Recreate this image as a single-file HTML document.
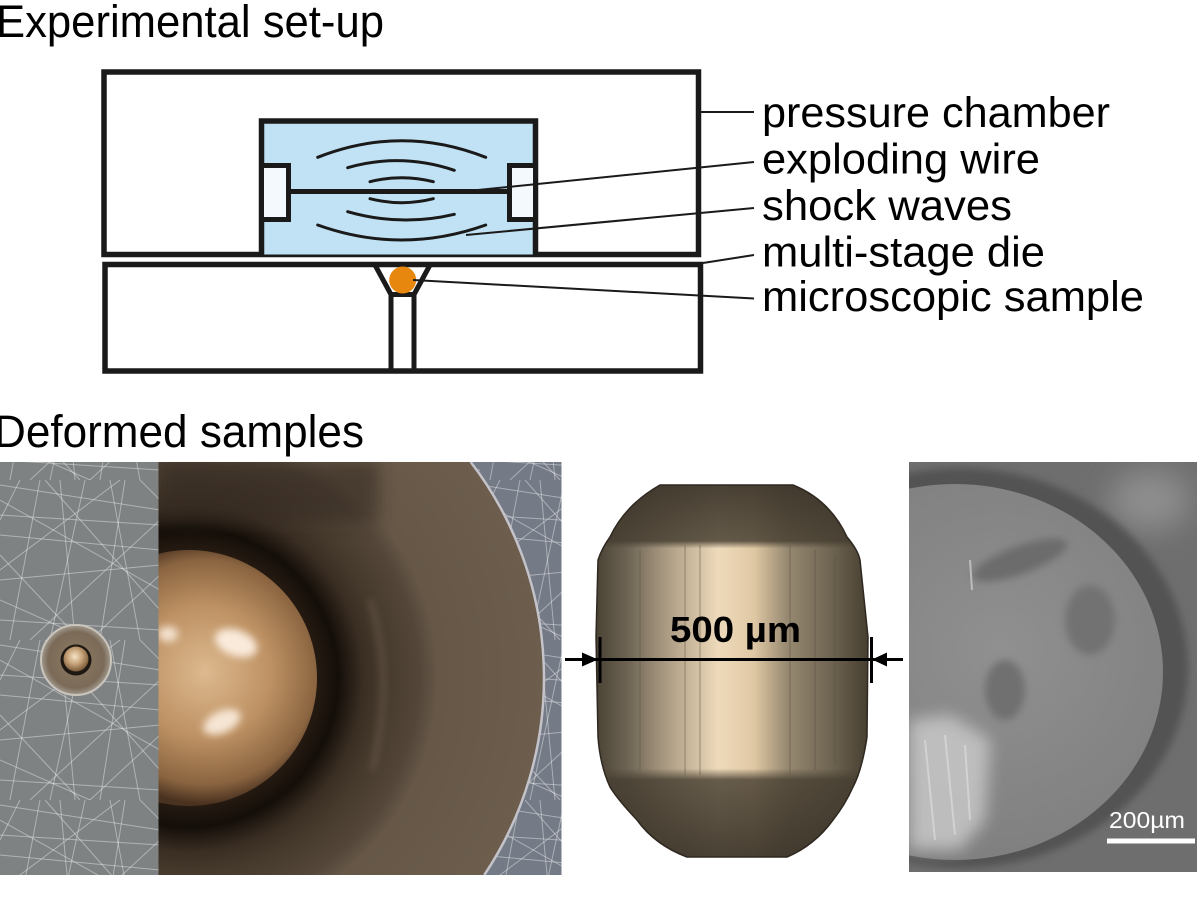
<!DOCTYPE html>
<html>
<head>
<meta charset="utf-8">
<style>
  html,body{margin:0;padding:0;background:#fff;width:1200px;height:901px;overflow:hidden;}
  svg{display:block;position:absolute;left:0;top:0;}
  text{font-family:"Liberation Sans", Arial, sans-serif;}
</style>
</head>
<body>
<svg width="1200" height="901" viewBox="0 0 1200 901" xmlns="http://www.w3.org/2000/svg" overflow="hidden">
  <defs>
    <pattern id="scr" width="160" height="160" patternUnits="userSpaceOnUse">
      <g stroke="#eef1f1" stroke-opacity="0.45" stroke-width="1" fill="none">
        <line x1="0" y1="20" x2="160" y2="110"/>
        <line x1="0" y1="90" x2="120" y2="0"/>
        <line x1="30" y1="160" x2="160" y2="40"/>
        <line x1="0" y1="140" x2="160" y2="150"/>
        <line x1="60" y1="0" x2="75" y2="160"/>
        <line x1="110" y1="0" x2="140" y2="160"/>
        <line x1="0" y1="55" x2="160" y2="70"/>
        <line x1="0" y1="120" x2="90" y2="160"/>
        <line x1="20" y1="0" x2="0" y2="40"/>
        <line x1="90" y1="160" x2="160" y2="95"/>
        <line x1="0" y1="5" x2="160" y2="30"/>
        <line x1="10" y1="160" x2="40" y2="0"/>
        <line x1="0" y1="75" x2="80" y2="160"/>
        <line x1="140" y1="0" x2="160" y2="20"/>
        <line x1="45" y1="0" x2="160" y2="130"/>
        <line x1="0" y1="100" x2="160" y2="85"/>
        <line x1="125" y1="0" x2="100" y2="160"/>
        <line x1="0" y1="35" x2="160" y2="45"/>
        <line x1="85" y1="0" x2="50" y2="160"/>
      </g>
    </pattern>
    <filter id="b4" x="-50%" y="-50%" width="200%" height="200%"><feGaussianBlur stdDeviation="4"/></filter>
    <filter id="b8" x="-50%" y="-50%" width="200%" height="200%"><feGaussianBlur stdDeviation="8"/></filter>
    <filter id="b15" x="-50%" y="-50%" width="200%" height="200%"><feGaussianBlur stdDeviation="15"/></filter>
    <clipPath id="c1"><rect x="0" y="462" width="158.5" height="413"/></clipPath>
    <clipPath id="c2"><rect x="158.5" y="462" width="403" height="413"/></clipPath>
    <clipPath id="c4"><rect x="909" y="462" width="288" height="410"/></clipPath>
    <radialGradient id="disk" cx="0.5" cy="0.5" r="0.5">
      <stop offset="0" stop-color="#8e7c66"/>
      <stop offset="0.8" stop-color="#7a6a57"/>
      <stop offset="1" stop-color="#a39a8e"/>
    </radialGradient>
    <radialGradient id="bead" cx="0.45" cy="0.4" r="0.6">
      <stop offset="0" stop-color="#f4e2c8"/>
      <stop offset="0.5" stop-color="#c8a47a"/>
      <stop offset="1" stop-color="#7a5a3a"/>
    </radialGradient>
    <radialGradient id="die2" gradientUnits="userSpaceOnUse" cx="189" cy="678" r="355">
      <stop offset="0.34" stop-color="#2a1e14"/>
      <stop offset="0.42" stop-color="#140e09"/>
      <stop offset="0.49" stop-color="#3a2e23"/>
      <stop offset="0.55" stop-color="#463a2d"/>
      <stop offset="0.65" stop-color="#54473a"/>
      <stop offset="0.70" stop-color="#665747"/>
      <stop offset="1" stop-color="#6c5d4d"/>
    </radialGradient>
    <radialGradient id="hemi" gradientUnits="userSpaceOnUse" cx="205" cy="672" r="132">
      <stop offset="0" stop-color="#ddb98f"/>
      <stop offset="0.5" stop-color="#bd9163"/>
      <stop offset="0.85" stop-color="#8a6440"/>
      <stop offset="1" stop-color="#4a3220"/>
    </radialGradient>
    <linearGradient id="sampH" x1="596" y1="0" x2="868" y2="0" gradientUnits="userSpaceOnUse">
      <stop offset="0" stop-color="#4a4234"/>
      <stop offset="0.12" stop-color="#6e6555"/>
      <stop offset="0.25" stop-color="#a89880"/>
      <stop offset="0.45" stop-color="#eedabb"/>
      <stop offset="0.58" stop-color="#e0c8a4"/>
      <stop offset="0.7" stop-color="#988a72"/>
      <stop offset="0.88" stop-color="#6a604e"/>
      <stop offset="1" stop-color="#463e30"/>
    </linearGradient>
    <linearGradient id="sampV" x1="0" y1="485" x2="0" y2="858" gradientUnits="userSpaceOnUse">
      <stop offset="0" stop-color="#3a3328" stop-opacity="0.92"/>
      <stop offset="0.15" stop-color="#453d30" stop-opacity="0.82"/>
      <stop offset="0.17" stop-color="#4a4234" stop-opacity="0"/>
      <stop offset="0.76" stop-color="#4a4234" stop-opacity="0"/>
      <stop offset="0.79" stop-color="#453d30" stop-opacity="0.8"/>
      <stop offset="1" stop-color="#3a3328" stop-opacity="0.92"/>
    </linearGradient>
    <radialGradient id="sem" gradientUnits="userSpaceOnUse" cx="1000" cy="650" r="230">
      <stop offset="0" stop-color="#909090"/>
      <stop offset="1" stop-color="#7e7e7e"/>
    </radialGradient>
  </defs>

  <!-- Headings -->
  <text x="-4" y="37" font-size="45" fill="#000" textLength="388" lengthAdjust="spacingAndGlyphs">Experimental set-up</text>
  <text x="-6" y="447" font-size="45" fill="#000" textLength="370" lengthAdjust="spacingAndGlyphs">Deformed samples</text>

  <!-- Schematic -->
  <g stroke="#1a1a1a" fill="none">
    <rect x="104" y="72" width="594.5" height="182.5" stroke-width="5.5"/>
    <rect x="105" y="264.5" width="595.5" height="106.5" stroke-width="5.5"/>
  </g>
  <rect x="261.5" y="121" width="274" height="133.5" fill="#c0e2f4"/>
  <path d="M261.5,254.5 V121 H535.5 V254.5" stroke="#1a1a1a" stroke-width="5.5" fill="none"/>
  <rect x="261.5" y="165.5" width="27" height="54" fill="#f3f9fd" stroke="#1a1a1a" stroke-width="5"/>
  <rect x="509.5" y="165.5" width="26" height="54" fill="#f3f9fd" stroke="#1a1a1a" stroke-width="5"/>
  <line x1="288.5" y1="191.5" x2="509.5" y2="191.5" stroke="#1a1a1a" stroke-width="5"/>
  <g stroke="#1a1a1a" stroke-width="3" fill="none" stroke-linecap="round">
    <path d="M317.7,157.3 Q401.7,124.1 485.7,157.3"/>
    <path d="M347.7,167.7 Q401,152.4 454.3,170.3"/>
    <path d="M370,181.7 Q401.7,173.7 433.3,181.7"/>
    <path d="M370,198.7 Q401.7,206.7 433.3,198.7"/>
    <path d="M347.7,211.7 Q401,227 454.3,214.3"/>
    <path d="M317.7,225 Q401.7,255 485.7,225"/>
  </g>
  <!-- die -->
  <g stroke="#1a1a1a" stroke-width="5" fill="none">
    <line x1="375" y1="265" x2="391" y2="294.5"/>
    <line x1="430" y1="265" x2="414" y2="294.5"/>
    <line x1="388.5" y1="294.5" x2="416.5" y2="294.5"/>
    <line x1="391" y1="292" x2="391" y2="372"/>
    <line x1="414" y1="292" x2="414" y2="372"/>
  </g>
  <circle cx="402.7" cy="280" r="13.5" fill="#e8870e"/>
  <!-- leader lines -->
  <g stroke="#1a1a1a" stroke-width="2" fill="none">
    <line x1="701" y1="112" x2="754" y2="112"/>
    <line x1="478" y1="190" x2="754" y2="162"/>
    <line x1="466" y1="235" x2="754" y2="208"/>
    <line x1="703" y1="263" x2="754" y2="255"/>
    <line x1="413" y1="280" x2="754" y2="298.5"/>
  </g>
  <!-- labels -->
  <g font-size="43" fill="#000">
    <text x="762" y="127" textLength="348" lengthAdjust="spacingAndGlyphs">pressure chamber</text>
    <text x="762" y="173.5" textLength="278" lengthAdjust="spacingAndGlyphs">exploding wire</text>
    <text x="762" y="220" textLength="250" lengthAdjust="spacingAndGlyphs">shock waves</text>
    <text x="762" y="266.5" textLength="283" lengthAdjust="spacingAndGlyphs">multi-stage die</text>
    <text x="762" y="311" textLength="382" lengthAdjust="spacingAndGlyphs">microscopic sample</text>
  </g>

  <!-- Photo 1 -->
  <g clip-path="url(#c1)">
    <rect x="0" y="462" width="158.5" height="413" fill="#7e8282"/>
    <rect x="0" y="462" width="158.5" height="413" fill="url(#scr)"/>
    <circle cx="76" cy="660" r="35" fill="url(#disk)" stroke="#c9c5bd" stroke-width="2"/>
    <circle cx="76" cy="660" r="15.5" fill="#1e1812"/>
    <circle cx="76" cy="659" r="12.5" fill="url(#bead)"/>
  </g>

  <!-- Photo 2 -->
  <g clip-path="url(#c2)">
    <rect x="158.5" y="462" width="403" height="413" fill="url(#die2)"/>
    <path d="M470.7,462 A355,355 0 0 1 484.3,875 L561.5,875 L561.5,462 Z" fill="#747a86"/>
    <path d="M470.7,462 A355,355 0 0 1 484.3,875 L561.5,875 L561.5,462 Z" fill="url(#scr)"/>
    <path d="M470.7,462 A355,355 0 0 1 484.3,875" fill="none" stroke="#c4c3ca" stroke-width="2.5"/>
    <rect x="158.5" y="462" width="220" height="60" fill="#362c23" opacity="0.6" filter="url(#b8)"/>
    <circle cx="189" cy="678" r="128" fill="url(#hemi)"/>
    <ellipse cx="236" cy="643" rx="22" ry="13" fill="#fff3e6" opacity="0.9" filter="url(#b4)" transform="rotate(20 236 643)"/>
    <ellipse cx="222" cy="722" rx="20" ry="11" fill="#fff3e6" opacity="0.85" filter="url(#b4)" transform="rotate(-25 222 722)"/>
    <ellipse cx="168" cy="634" rx="10" ry="8" fill="#fff3e6" opacity="0.8" filter="url(#b4)"/>
    <path d="M370,600 Q395,680 372,770" stroke="#8a7a66" stroke-width="3" fill="none" opacity="0.6" filter="url(#b4)"/>
  </g>

  <!-- Photo 3: sample -->
  <path d="M660,485 L793,485 Q830,500 847,537 Q858,550 860,560 L868,637 L867,737 Q862,770 853,787 Q845,805 833,820 Q815,845 787,857 L687,857 Q655,845 637,820 Q618,800 610,787 Q600,765 598,737 L596,637 L598,560 Q602,548 610,537 Q625,505 660,485 Z" fill="url(#sampH)"/>
  <path d="M660,485 L793,485 Q830,500 847,537 Q858,550 860,560 L868,637 L867,737 Q862,770 853,787 Q845,805 833,820 Q815,845 787,857 L687,857 Q655,845 637,820 Q618,800 610,787 Q600,765 598,737 L596,637 L598,560 Q602,548 610,537 Q625,505 660,485 Z" fill="url(#sampV)" stroke="#2e2820" stroke-width="1.5"/>
  <g stroke="#5a5040" stroke-opacity="0.35" stroke-width="1.5">
    <line x1="640" y1="550" x2="640" y2="770"/>
    <line x1="685" y1="545" x2="685" y2="775"/>
    <line x1="700" y1="545" x2="700" y2="775"/>
    <line x1="790" y1="545" x2="790" y2="775"/>
    <line x1="815" y1="550" x2="815" y2="770"/>
    <line x1="835" y1="555" x2="835" y2="765"/>
  </g>
  <line x1="565" y1="659.5" x2="903" y2="659.5" stroke="#000" stroke-width="3"/>
  <polygon points="582,652.5 598,659.5 582,666.5" fill="#000"/>
  <polygon points="887,652.5 872,659.5 887,666.5" fill="#000"/>
  <rect x="598.5" y="637" width="3" height="46" fill="#000"/>
  <rect x="870" y="637" width="3" height="46" fill="#000"/>
  <text x="670" y="642" font-size="36" font-weight="bold" fill="#000" textLength="131" lengthAdjust="spacingAndGlyphs">500 µm</text>

  <!-- Photo 4: SEM -->
  <g clip-path="url(#c4)">
    <rect x="909" y="462" width="288" height="410" fill="#6e6e6e"/>
    <ellipse cx="1150" cy="500" rx="40" ry="30" fill="#8e8e8e" filter="url(#b15)"/>
    <ellipse cx="960" cy="668" rx="228" ry="200" fill="#535353" filter="url(#b4)"/>
    <ellipse cx="955" cy="672" rx="208" ry="188" fill="url(#sem)"/>
    <ellipse cx="1020" cy="560" rx="50" ry="14" fill="#6c6c6c" filter="url(#b4)" transform="rotate(-20 1020 560)"/>
    <ellipse cx="1090" cy="620" rx="25" ry="35" fill="#727272" filter="url(#b4)"/>
    <ellipse cx="1005" cy="690" rx="20" ry="30" fill="#707070" filter="url(#b4)"/>
    <path d="M909,720 L950,715 L990,740 L985,820 L960,850 L909,850 Z" fill="#c8c8c8" opacity="0.85" filter="url(#b8)"/>
    <g stroke="#e0e0e0" stroke-opacity="0.6" stroke-width="2">
      <line x1="925" y1="740" x2="935" y2="840"/>
      <line x1="945" y1="735" x2="955" y2="835"/>
      <line x1="965" y1="745" x2="970" y2="820"/>
      <line x1="970" y1="560" x2="972" y2="590"/>
    </g>
    <text x="1109" y="828" font-size="23" fill="#fff" textLength="76" lengthAdjust="spacingAndGlyphs">200µm</text>
    <rect x="1107" y="838.5" width="88" height="5" fill="#fff"/>
  </g>
</svg>
</body>
</html>
